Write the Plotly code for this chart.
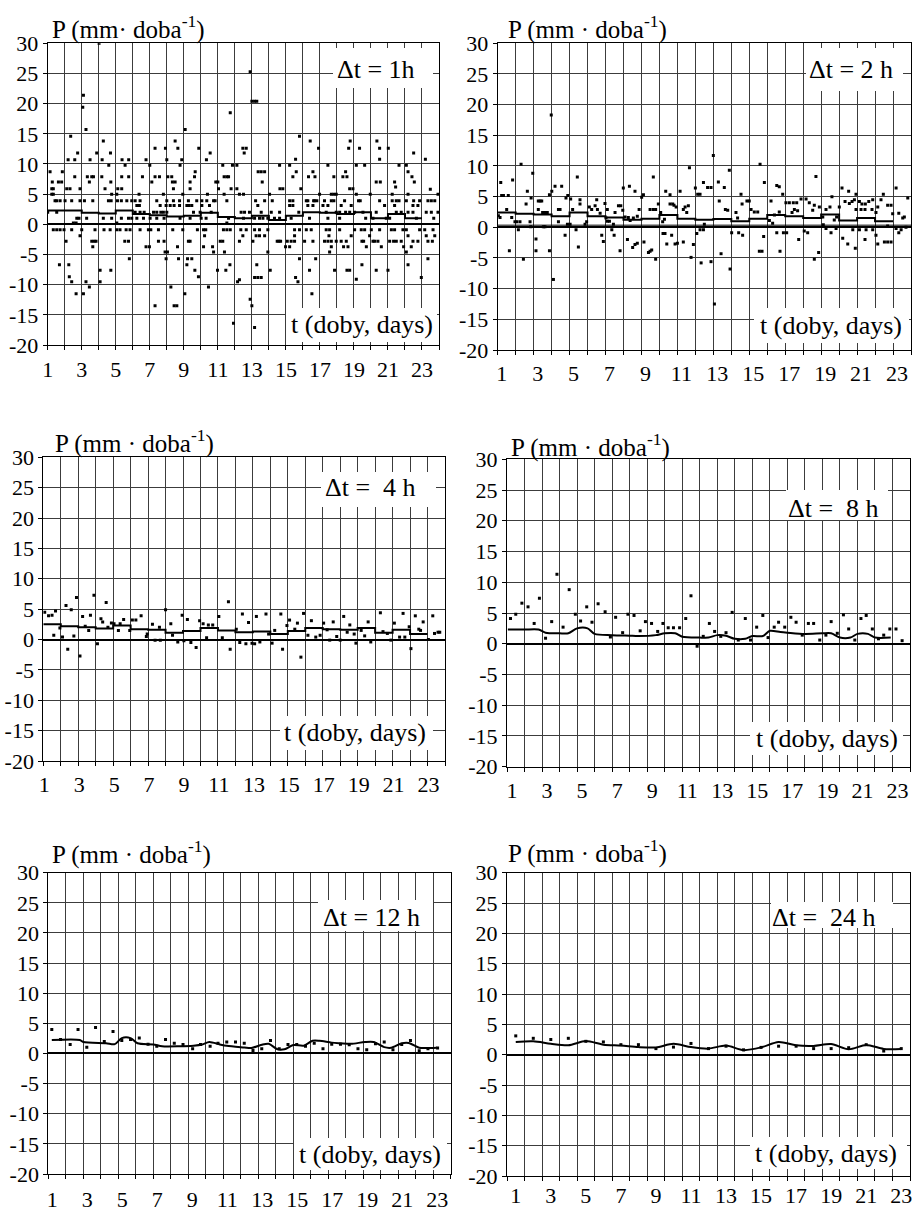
import plotly.graph_objects as go

W, H = 916, 1213
SERIF = "Liberation Serif, Times New Roman, Times, DejaVu Serif, serif"
GRID = "#3c3c3c"

# ---------------- data ----------------
y_ticks = [-20, -15, -10, -5, 0, 5, 10, 15, 20, 25, 30]
y_tick_labels = ["-20", "-15", "-10", "-5", "0", "5", "10", "15", "20", "25", "30"]
day_ticks = [1, 3, 5, 7, 9, 11, 13, 15, 17, 19, 21, 23]
day_tick_labels = ["1", "3", "5", "7", "9", "11", "13", "15", "17", "19", "21", "23"]

mean_days = [1, 2, 3, 4, 5, 6, 7, 8, 9, 10, 11, 12, 13, 14, 15, 16, 17, 18, 19, 20, 21, 22]
mean_1h = [2.3, 2.3, 1.9, 1.8, 2.3, 1.7, 1.5, 1.3, 1.4, 1.9, 1.2, 1.0, 1.4, 0.7, 1.4, 2.0, 1.9, 1.7, 2.0, 1.0, 1.7, 1.0]
mean_2h = [2.4, 2.2, 2.1, 1.8, 2.4, 1.8, 1.6, 1.25, 1.4, 2.0, 1.4, 1.25, 1.35, 1.0, 1.4, 2.0, 1.8, 1.5, 2.1, 1.1, 1.5, 1.0]
mean_4h = [2.5, 2.2, 2.0, 1.8, 2.3, 1.7, 1.6, 1.1, 1.4, 1.9, 1.5, 1.2, 1.3, 0.9, 1.4, 1.9, 1.7, 1.6, 1.9, 1.1, 1.6, 0.9]
ref_2h = 0.35

def lvl(days, v):
    return [(d, v) for d in days]

obs_1h = (
    [(4.02, 30.0), (3.10, 21.4), (3.06, 19.4), (3.25, 15.7), (11.73, 18.5), (2.35, 14.6), (4.27, 13.8),
     (9.08, 15.7), (7.31, 12.6), (7.92, 12.6), (8.49, 13.8), (8.65, 12.6), (9.88, 12.6), (10.55, 11.8),
     (12.55, 11.8), (2.76, 11.8), (3.88, 11.8), (4.69, 11.8), (5.55, 9.8), (4.59, 9.8), (7.00, 9.8),
     (8.78, 9.8), (11.29, 9.8), (11.86, 9.8), (12.12, 9.8), (1.14, 8.7), (1.86, 8.7), (9.67, 8.7),
     (2.27, -8.7), (9.86, -8.7), (12.90, 25.3), (13.00, 20.4), (13.16, 20.4), (13.29, 20.4), (15.80, 14.6),
     (16.43, 13.8), (16.92, 12.6), (15.57, 10.8), (12.47, 12.6), (12.67, 12.6), (18.78, 13.8), (18.69, 12.6),
     (19.33, 12.6), (20.35, 13.8), (20.51, 12.6), (21.02, 12.6), (20.51, 10.8), (22.51, 11.8), (23.20, 10.8),
     (13.37, 8.7), (13.55, 8.7), (13.75, 8.7), (15.61, 8.7), (16.59, 8.7), (18.51, 8.7), (22.18, 8.7),
     (22.55, 7.0), (21.45, 6.2), (23.49, 5.8), (13.94, -4.6), (15.80, -5.7), (16.75, -5.7), (17.57, -4.6),
     (22.08, -4.6), (23.35, -5.7), (13.16, -8.8), (13.35, -8.8), (13.55, -8.8), (12.27, -9.2), (14.08, -7.6),
     (15.57, -8.8), (15.71, -9.5), (16.39, -7.6), (17.86, -7.6), (18.59, -7.6), (18.75, -7.6), (19.14, -9.1),
     (20.31, -7.6), (21.00, -7.6), (22.96, -8.8), (16.53, -11.5), (12.90, -12.4), (13.00, -13.5),
     (13.16, -17.1), (11.92, -16.4)]
    + lvl([2.20, 2.59, 3.49, 4.20, 5.37, 5.76, 6.78, 8.00, 8.88, 10.33], 10.7)
    + lvl([14.63, 15.22, 17.47, 19.14, 19.63, 21.65, 22.08], 9.8)
    + lvl([2.59, 3.33, 3.59, 3.69, 4.18, 5.35, 5.76, 6.57, 7.31, 7.57, 8.06, 8.29, 9.63, 11.37, 11.53, 11.63,
           15.41, 16.33, 16.71, 17.82, 18.35, 18.59, 22.41], 7.9)
    + lvl([1.27, 1.63, 1.82, 3.45, 4.71, 7.12, 8.33, 8.49, 9.37, 10.88, 11.00, 13.61, 20.31, 20.55, 21.39], 7.0)
    + lvl([1.24, 1.33, 2.12, 2.31, 2.90, 4.37, 5.12, 5.35, 8.39, 9.37, 11.04, 11.78, 12.12,
           14.65, 14.82, 15.88, 18.75, 18.94], 5.9)
    + lvl([1.24, 1.33, 4.76, 5.06, 6.37, 7.80, 8.94, 10.39, 11.37, 12.51, 12.27, 14.04, 16.98, 17.67, 17.82,
           17.96, 19.14, 19.96, 21.25, 22.18, 23.94], 5.0)
    + lvl([1.43, 1.53, 1.73, 2.02, 2.41, 2.90, 3.16, 3.65, 4.57, 4.73, 5.10, 5.33, 5.65, 5.94, 6.14, 6.43, 7.41,
           8.00, 8.39, 8.75, 9.27, 9.76, 10.06, 10.35, 10.75, 10.84, 11.53, 13.22, 13.75, 14.20, 15.22, 15.41,
           16.20, 16.29, 16.63, 16.69, 16.82, 17.27, 17.67, 17.82, 18.45, 19.27, 19.37, 20.51, 21.25, 21.49,
           21.65, 22.08, 22.51, 22.86, 23.35, 23.55, 23.75], 3.9)
    + lvl([6.24, 6.39, 7.61, 7.96, 8.20, 8.43, 8.75, 9.18, 9.31, 9.47, 10.06, 10.51, 13.35, 15.22, 15.41,
           16.29, 16.59, 17.18, 17.47, 18.25, 18.84, 20.80, 21.39, 22.47, 22.76], 3.1)
    + lvl([1.00, 1.53, 6.14, 6.43, 6.67, 7.22, 7.41, 7.65, 7.80, 8.00, 9.57, 9.96, 10.61, 12.37, 12.57, 12.86,
           13.55, 14.14, 14.63, 15.76, 17.37, 17.96, 18.16, 18.51, 18.75, 19.04, 19.53, 20.31, 21.49, 21.78,
           22.18, 22.47, 23.25, 23.55, 23.94], 2.0)
    + lvl([2.71, 2.84, 3.29, 4.27, 4.76, 5.33, 5.75, 5.94, 6.24, 6.63, 7.02, 7.41, 7.84, 8.78, 9.37, 10.02,
           10.31, 11.63, 12.51, 13.16, 13.45, 13.65, 13.94, 14.33, 14.63, 15.31, 16.39, 17.47, 18.16, 19.69,
           20.12, 20.90, 21.10, 22.67, 23.69], 1.0)
    + lvl([2.51, 2.67, 5.06, 11.53], 0.2)
    + lvl([1.33, 1.53, 1.73, 1.96, 2.41, 3.00, 3.78, 4.31, 4.67, 5.06, 5.25, 5.61, 5.84, 6.43, 6.92, 7.06, 7.51,
           8.35, 8.94, 9.80, 10.16, 10.29, 11.33, 11.53, 11.73, 12.35, 12.67, 13.16, 13.45, 13.94, 15.51,
           15.80, 16.20, 16.49, 17.37, 17.57, 18.16, 19.04, 19.43, 19.63, 20.02, 20.51, 21.20, 21.39, 21.88,
           22.08, 22.86, 23.16, 23.65], -0.9)
    + lvl([2.90, 10.22, 12.47, 13.25, 13.45, 13.75, 15.51, 17.53, 18.84, 19.92, 22.18, 23.25, 23.75], -1.9)
    + lvl([2.08, 3.59, 3.73, 3.84, 5.53, 5.75, 7.51, 7.84, 9.27, 9.37, 11.14, 11.29, 12.27, 13.06, 14.49,
           14.59, 14.69, 15.08, 15.31, 15.51, 16.10, 16.59, 17.27, 17.47, 17.67, 17.96, 18.25, 18.55, 19.47,
           19.57, 20.12, 20.22, 20.41, 21.10, 21.33, 21.49, 21.78, 22.47, 22.76, 23.35, 23.61], -2.8)
    + lvl([3.65, 6.78, 6.98, 10.16, 10.69, 8.63, 14.98, 15.22, 17.67, 18.39, 18.65, 19.73, 20.61, 21.92,
           22.37], -3.7)
    + lvl([7.90, 8.04, 11.39, 10.75], -4.6)
    + lvl([5.80, 7.96, 9.47, 8.69, 9.22], -5.7)
    + lvl([1.69, 2.24, 9.18, 11.71, 13.29, 19.47, 22.18], -6.7)
    + lvl([4.08, 4.71, 9.65, 10.98, 11.47], -7.6)
    + lvl([2.41, 3.25, 4.08, 12.16], -9.5)
    + lvl([3.45, 8.24, 10.45], -10.4)
    + lvl([2.67, 3.10, 9.06], -11.5)
    + lvl([7.31, 8.43, 8.59], -13.5)
)

obs_2h = [
    (2.30, 10.3), (2.95, 8.8), (1.17, 7.3), (1.83, 7.7), (1.22, 5.2), (1.32, 5.2), (1.59, 5.2), (1.50, 2.9),
    (1.13, 1.6), (1.04, 1.9), (1.78, 1.6), (1.96, 0.9), (2.06, 0.9), (2.24, 0.9), (2.15, -0.4), (1.65, -3.8),
    (2.43, -5.2), (2.65, 5.9), (2.58, 3.8), (2.86, 4.8), (2.80, 0.9), (2.84, 0.1), (3.13, -1.9), (3.13, -3.8),
    (3.26, 4.3), (3.36, 4.3), (3.45, 4.3), (3.26, 2.9), (3.50, 2.4), (3.63, 2.4), (3.76, 2.4), (3.54, 0.1),
    (3.63, 0.1), (3.88, 5.3), (3.88, -3.8), (4.10, -8.5), (3.98, 18.3), (4.01, 5.9), (4.19, 6.7), (4.56, 6.7),
    (4.38, 2.9), (4.47, 2.9), (4.38, 0.9), (4.80, 4.8), (4.90, 5.2), (4.75, -1.3), (4.88, 0.5), (5.03, 0.5),
    (5.06, 4.6), (5.17, 2.9), (5.43, 8.2), (5.36, -0.4), (5.49, -3.2), (5.58, 4.5), (5.58, 3.8), (5.86, 0.5),
    (5.95, 0.9), (6.10, 3.3), (6.23, 2.9), (6.42, 3.5), (6.51, 4.5), (6.55, 2.9), (6.70, 2.3), (6.79, -1.3),
    (6.88, -2.3), (6.97, 3.9), (7.10, 2.9), (7.03, 1.5), (7.10, 1.0), (7.22, 1.0), (7.44, 0.5), (7.35, -0.4),
    (7.48, -1.3), (7.53, 2.4), (7.72, 3.5), (7.85, 3.5), (7.96, 2.8), (7.81, -3.8), (7.99, 6.4), (8.33, 6.7),
    (8.64, 5.9), (8.22, -2.0), (8.09, 1.7), (8.27, 1.6), (8.37, 1.1), (8.55, 1.5), (8.77, 1.8), (8.51, -3.3),
    (8.64, -2.8), (8.77, -2.6), (9.01, 4.9), (9.11, 5.3), (8.87, 2.9), (9.14, -2.4), (9.39, -4.1), (9.48, -3.9),
    (9.57, -3.7), (9.79, -5.2), (9.66, 8.2), (9.48, 2.9), (9.66, 2.9), (9.79, 2.9), (9.94, 3.8), (10.07, 2.4),
    (10.18, 0.9), (10.28, 1.3), (10.20, -1.0), (10.31, -1.0), (10.35, 5.9), (10.59, 5.3), (10.74, 3.8),
    (10.59, 3.8), (10.81, 3.6), (10.93, 3.3), (11.15, 5.9), (10.41, -2.7), (10.87, -2.7), (11.00, -2.6),
    (10.68, -1.3), (11.33, 2.9), (11.43, 3.3), (11.61, 3.5), (11.52, 2.4), (11.33, -2.4), (11.89, -2.8),
    (11.67, 9.7), (12.00, 6.4), (12.13, 5.4), (12.26, 5.4), (12.45, 7.3), (11.76, -4.9), (12.32, -5.8),
    (12.08, -1.0), (12.26, -0.4), (12.45, -0.4), (12.50, 0.5),
    (13.00, 11.7), (13.89, 9.3), (13.06, -12.5), (15.60, 10.3), (15.84, 7.3), (12.68, 6.5), (12.87, 6.5),
    (13.28, 7.4), (13.61, 6.5), (13.33, 4.3), (13.67, 2.9), (13.80, 2.8), (13.43, -4.3), (12.87, -5.6),
    (13.93, -6.8), (14.35, 1.5), (14.26, 2.4), (14.54, 5.4), (14.60, 3.8), (14.02, -0.9), (14.41, -0.9),
    (14.63, -1.3), (14.87, 4.3), (15.00, 4.3), (15.10, 2.9), (15.28, 2.5), (15.47, 2.5), (15.56, -3.9),
    (15.71, -3.9), (15.80, -1.5), (16.12, 1.1), (16.21, 4.3), (16.40, 2.0), (16.53, 6.8), (16.67, 6.6),
    (16.86, 5.4), (16.67, 2.5), (16.30, 0.65), (16.53, -0.9), (16.71, -3.9), (16.90, -0.9), (17.08, -0.9),
    (17.04, 4.0), (17.23, 4.0), (17.45, 4.0), (17.64, 4.0), (17.69, 2.7), (17.51, 2.9), (17.38, 2.4),
    (17.75, -2.0), (17.88, 4.6), (18.16, 4.6), (18.34, 4.0), (18.53, 2.8), (18.62, 3.6), (18.06, -0.6),
    (18.25, -0.9), (18.62, -5.2), (18.71, 8.3), (18.86, -4.1), (18.90, 3.3), (19.09, 1.7), (19.27, 2.9),
    (19.49, 3.3), (19.60, 5.0), (19.12, 0.4), (19.27, -0.2), (19.55, -0.9), (19.83, -0.2), (20.01, 3.3),
    (19.73, 1.2), (19.86, 1.7), (20.16, 6.4), (20.53, 5.9), (20.94, 5.4), (21.13, 4.2), (21.27, 3.8),
    (20.20, -1.8), (20.48, -2.7), (20.90, -3.4), (20.33, 4.2), (20.57, 3.9), (20.72, 4.2), (20.85, 4.5),
    (21.46, 3.8), (21.87, 4.5), (22.15, 3.3), (20.76, -0.4), (21.13, -0.4), (21.50, -0.4), (21.44, -2.0),
    (21.87, -0.4), (20.94, 2.9), (21.22, 2.9), (21.44, 2.9), (21.65, 4.2), (21.83, 2.9), (22.05, 2.4),
    (22.33, 4.5), (22.46, 5.4), (22.70, 3.6), (22.89, 3.6), (22.98, 2.2), (23.17, 6.4), (23.32, 2.3),
    (23.54, 1.5), (23.63, 1.7), (23.82, 4.8), (22.05, -1.3), (22.15, -2.7), (22.52, -2.4), (22.70, -2.4),
    (22.89, -2.4), (22.70, 0.2), (23.17, -0.2), (23.32, -0.9), (23.45, -0.4), (23.72, 0.0),
]

obs_4h = [
    (1.08, 4.5), (1.30, 3.9), (1.50, 4.0), (1.70, 4.7), (1.60, 0.7), (1.95, 1.9), (2.10, 0.4), (2.30, 5.6),
    (2.40, -1.6), (2.60, 4.9), (2.75, 0.6), (2.90, 6.9), (3.10, -2.7), (3.25, 3.8), (3.40, 2.2), (3.60, 1.5),
    (3.70, 4.0), (3.90, 7.3), (4.10, -0.7), (4.30, 3.4), (4.40, 2.9), (4.60, 6.1), (4.70, 2.0), (4.90, 2.7),
    (5.05, 2.6), (5.30, 1.5), (5.40, 2.6), (5.60, 3.3), (5.95, 1.5), (6.10, 3.2), (6.30, 3.2), (6.60, 3.9),
    (6.90, 0.5), (6.95, 0.9), (7.25, 2.5), (7.40, -0.1), (7.70, -0.1), (7.65, 2.0), (8.00, 4.9), (8.30, 2.6),
    (8.40, 0.7), (8.70, -0.4), (8.95, 4.0), (9.05, -0.2), (9.25, 3.3), (9.45, -0.5), (9.75, -1.3),
    (9.95, 3.1), (10.15, 2.6), (10.35, 0.3), (10.45, 2.4), (10.70, 2.4), (11.05, 3.8), (11.25, 0.3),
    (11.60, 6.2), (11.70, -1.6), (12.05, 1.7), (12.25, -0.5), (12.40, 4.2), (12.60, -0.7), (12.75, 2.8),
    (12.95, -0.6), (13.10, -0.7), (13.20, 3.8), (13.40, -0.4), (13.75, 4.2), (13.90, 0.9), (14.10, -0.6),
    (14.25, 1.5), (14.60, 4.2), (14.70, -1.6), (14.95, 2.3), (15.10, 3.2), (15.40, 1.7), (15.55, 2.7),
    (15.75, -2.9), (15.90, 4.3), (16.15, 0.7), (16.35, 3.1), (16.60, 0.4), (16.85, 0.7), (17.05, 2.7),
    (17.25, 1.6), (17.40, -0.1), (17.60, 2.9), (17.80, 0.5), (18.00, -0.1), (18.20, 3.8), (18.40, 1.2),
    (18.55, 2.4), (18.80, 0.9), (18.90, -0.6), (19.20, 1.5), (19.40, 0.6), (19.60, 2.9), (19.75, -0.4),
    (20.30, 4.4), (20.45, 1.3), (20.70, 1.0), (20.90, -0.1), (21.10, 2.7), (21.40, 0.4), (21.60, 4.3),
    (21.70, 0.4), (21.95, 2.1), (22.05, -1.5), (22.30, 3.9), (22.50, 1.7), (22.60, 1.5), (22.75, 2.9),
    (23.05, 0.0), (23.30, 3.9), (23.40, 1.0), (23.60, 1.2), (23.70, 1.2),
]

obs_8h = [
    (1.20, 4.1), (1.50, 4.8), (1.85, 6.6), (2.20, 6.0), (2.55, 3.3), (2.85, 7.4), (3.20, 0.9), (3.55, 3.6),
    (3.85, 11.3), (4.20, 2.7), (4.55, 8.8), (4.90, 4.8), (5.20, 3.7), (5.55, 6.0), (5.85, 3.5), (6.20, 6.5),
    (6.60, 5.2), (6.90, 1.1), (7.20, 4.3), (7.60, 1.8), (7.90, 4.8), (8.25, 4.6), (8.60, 2.1), (8.90, 3.6),
    (9.25, 3.3), (9.60, 2.0), (9.90, 3.3), (10.20, 2.6), (10.50, 2.6), (10.85, 2.6), (11.20, 4.1),
    (11.50, 7.8), (11.85, -0.4), (12.20, 1.2), (12.55, 3.3), (12.85, 2.0), (13.20, 1.2), (13.50, 1.8),
    (13.85, 5.1), (14.20, 0.6), (14.60, 4.1), (14.90, 0.6), (15.25, 2.7), (15.60, 4.6), (15.90, 1.0),
    (16.25, 2.7), (16.50, 3.5), (16.85, 2.7), (17.20, 4.3), (17.50, 3.5), (17.85, 1.4), (18.20, 3.3),
    (18.50, 3.3), (18.85, 0.6), (19.20, 1.4), (19.50, 3.6), (19.85, 1.7), (20.20, 4.7), (20.50, 2.4),
    (20.85, 0.6), (21.20, 4.1), (21.50, 4.6), (21.85, 2.4), (22.20, 0.8), (22.50, 1.4), (22.85, 2.4),
    (23.20, 2.4), (23.55, 0.5),
]
line_8h_t = [1.05, 2.0, 2.8, 3.2, 4.0, 4.5, 5.0, 5.6, 6.0, 7.0, 8.0, 8.5, 9.5, 10.0, 10.6, 11.0, 12.0, 12.5,
             13.0, 13.5, 14.0, 14.6, 15.0, 15.6, 16.0, 16.6, 17.0, 18.0, 19.0, 19.5, 20.0, 20.6, 21.0, 21.6,
             22.0, 22.9]
line_8h_p = [2.3, 2.3, 2.3, 1.8, 1.7, 1.7, 2.5, 2.5, 1.6, 1.4, 1.3, 1.25, 1.4, 1.7, 1.7, 1.15, 1.0, 1.0,
             1.4, 1.3, 0.8, 0.8, 1.25, 1.25, 2.1, 1.9, 1.8, 1.6, 1.7, 1.7, 1.0, 1.0, 1.6, 1.6, 1.0, 1.0]

obs_12h = [
    (1.2, 4.0), (1.7, 2.3), (2.25, 1.5), (2.7, 4.0), (3.2, 1.05), (3.7, 4.3), (4.2, 2.0), (4.7, 3.65),
    (5.2, 2.15), (5.7, 2.3), (6.2, 2.55), (6.7, 1.55), (7.2, 1.2), (7.7, 2.3), (8.2, 1.7), (8.7, 1.5),
    (9.25, 0.8), (9.7, 1.5), (10.25, 1.2), (10.7, 1.7), (11.2, 1.9), (11.7, 1.9), (12.2, 1.7), (12.7, 0.5),
    (13.2, 0.8), (13.7, 2.15), (14.2, 0.8), (14.7, 1.5), (15.2, 1.5), (15.7, 1.2), (16.2, 1.7), (16.7, 0.8),
    (17.2, 1.55), (17.7, 1.55), (18.2, 1.45), (18.7, 0.8), (19.2, 0.6), (19.7, 1.6), (20.2, 1.9),
    (20.7, 0.6), (21.2, 1.5), (21.7, 2.15), (22.2, 0.45), (22.7, 0.8), (23.25, 0.9),
]
line_12h_t = [1.2, 2.8, 3.0, 4.3, 4.8, 5.2, 5.7, 6.1, 7.0, 7.5, 8.5, 9.3, 9.8, 10.2, 10.8, 11.2, 12.2, 12.6,
              13.2, 13.6, 14.1, 14.5, 15.0, 15.6, 16.1, 16.5, 17.2, 17.7, 18.3, 19.1, 19.6, 20.2, 20.6, 21.2,
              21.6, 22.2, 22.6, 23.2]
line_12h_p = [2.25, 2.25, 1.9, 1.7, 1.55, 2.55, 2.55, 1.7, 1.5, 1.2, 1.2, 1.3, 1.5, 1.9, 1.5, 1.27, 1.0, 0.9,
              1.45, 1.6, 0.7, 0.7, 1.4, 1.3, 2.1, 2.1, 1.8, 1.7, 1.6, 1.9, 1.9, 1.05, 0.95, 1.7, 1.75, 0.95,
              0.9, 0.95]

days_24h = [1, 2, 3, 4, 5, 6, 7, 8, 9, 10, 11, 12, 13, 14, 15, 16, 17, 18, 19, 20, 21, 22, 23]
obs_24h = [3.1, 2.7, 2.5, 2.7, 2.2, 2.1, 1.65, 1.65, 1.0, 1.25, 1.85, 1.0, 1.4, 0.8, 1.2, 1.4, 1.4, 1.0,
           1.0, 1.15, 1.65, 0.6, 1.0]
line_24h = [2.1, 2.2, 1.8, 1.55, 2.25, 1.65, 1.5, 1.25, 1.2, 1.8, 1.25, 1.0, 1.5, 0.75, 1.2, 2.1, 1.55,
            1.45, 1.75, 0.9, 1.6, 0.95, 0.95]

# ---------------- layout helpers ----------------
def xp(p):
    return p / W

def yp(p):
    return 1 - p / H

fig = go.Figure()
tick_font = dict(family=SERIF, size=22, color="black")
dot = dict(symbol="square", size=3, color="black", line=dict(width=0))

# panel boxes in px: (left, right, top, bottom), label standoff, label shift
panels = [
    dict(box=(47.7, 439, 43.3, 345), so=1, sh=0),
    dict(box=(497.7, 911, 43.3, 350), so=0, sh=4),
    dict(box=(43.3, 445, 457.3, 761), so=0, sh=1),
    dict(box=(507, 910, 459.3, 766.7), so=0, sh=5),
    dict(box=(48.3, 450.7, 872.7, 1174), so=2, sh=4),
    dict(box=(507, 910, 872.7, 1176), so=0, sh=0),
]

for i, pn in enumerate(panels, start=1):
    l, r, t, b = pn["box"]
    sfx = "" if i == 1 else str(i)
    xa = dict(domain=[xp(l), xp(r)], anchor="y" + sfx, tickmode="array", automargin=False,
              tickvals=day_ticks, ticktext=day_tick_labels,
              ticklen=4, tickcolor="black", tickwidth=1,
              showline=True, linecolor="black", linewidth=1, mirror=True,
              zeroline=False, gridcolor=GRID, gridwidth=1, tickfont=tick_font,
              ticklabelstandoff=pn["so"], ticklabelshift=pn["sh"], fixedrange=True)
    if i == 6:
        xa.update(range=[0.5, 23.5], showgrid=False, ticks="",
                  minor=dict(tick0=0.5, dtick=1, showgrid=True, gridcolor=GRID, gridwidth=1,
                             ticks="outside", ticklen=4, tickcolor="black"))
    else:
        xa.update(range=[1, 24], showgrid=True, ticks="outside",
                  minor=dict(tick0=1, dtick=1, showgrid=True, gridcolor=GRID, gridwidth=1,
                             ticks="outside", ticklen=4, tickcolor="black"))
    ya = dict(domain=[yp(b), yp(t)], anchor="x" + sfx, range=[-20, 30], tickmode="array", automargin=False,
              tickvals=y_ticks, ticktext=y_tick_labels, ticks="outside", ticklen=4, tickcolor="black",
              showline=True, linecolor="black", linewidth=1, mirror=True, showgrid=True, gridcolor=GRID,
              gridwidth=1, zeroline=True, zerolinecolor="black", zerolinewidth=2, tickfont=tick_font,
              fixedrange=True)
    fig.update_layout(**{"xaxis" + sfx: xa, "yaxis" + sfx: ya})

def add_obs(obs, i):
    sfx = "" if i == 1 else str(i)
    fig.add_trace(go.Scatter(x=[o[0] for o in obs], y=[o[1] for o in obs], mode="markers", marker=dot,
                             xaxis="x" + sfx, yaxis="y" + sfx, showlegend=False, hoverinfo="skip"))

def add_step(means, i):
    sfx = "" if i == 1 else str(i)
    fig.add_trace(go.Scatter(x=mean_days + [mean_days[-1] + 1], y=means + [means[-1]], mode="lines",
                             line=dict(color="black", width=2, shape="hv"),
                             xaxis="x" + sfx, yaxis="y" + sfx, showlegend=False, hoverinfo="skip"))

def add_smooth(tt, pp, i):
    sfx = "" if i == 1 else str(i)
    fig.add_trace(go.Scatter(x=tt, y=pp, mode="lines",
                             line=dict(color="black", width=2, shape="spline", smoothing=0.8),
                             xaxis="x" + sfx, yaxis="y" + sfx, showlegend=False, hoverinfo="skip"))

add_obs(obs_1h, 1); add_step(mean_1h, 1)
add_obs(obs_2h, 2); add_step(mean_2h, 2)
add_obs(obs_4h, 3); add_step(mean_4h, 3)
add_obs(obs_8h, 4); add_smooth(line_8h_t, line_8h_p, 4)
add_obs(obs_12h, 5); add_smooth(line_12h_t, line_12h_p, 5)
fig.add_trace(go.Scatter(x=days_24h, y=obs_24h, mode="markers", marker=dot, xaxis="x6", yaxis="y6",
                         showlegend=False, hoverinfo="skip"))
add_smooth(days_24h, line_24h, 6)

shapes = [dict(type="line", xref="x2 domain", x0=0, x1=1, yref="y2", y0=ref_2h, y1=ref_2h,
               line=dict(color="black", width=1))]

texts = [
    (50, 28, "P (mm· doba<sup>-1</sup>)", (333, 433, 48, 88), (376, 70), "Δt = 1h",
     (286, 437, 308, 342), (362, 324)),
    (506, 28, "P (mm · doba<sup>-1</sup>)", (806, 903, 48, 91), (851, 70), "Δt = 2 h",
     (754, 909, 308, 343), (831, 325)),
    (53, 441, "P (mm · doba<sup>-1</sup>)", (321, 436, 472, 507), (370, 487), "Δt =\u00a0 4 h",
     (280, 433, 716, 750), (355, 732)),
    (509, 445, "P (mm · doba<sup>-1</sup>)", (786, 888, 490, 520), (833, 508), "Δt =\u00a0 8 h",
     (750, 903, 722, 755), (827, 738)),
    (50, 852, "P (mm · doba<sup>-1</sup>)", (318, 433, 900, 931), (371, 917), "Δt = 12 h",
     (294, 447, 1138, 1170), (370, 1154)),
    (506, 851, "P (mm · doba<sup>-1</sup>)", (771, 893, 902, 928), (824, 917), "Δt =\u00a0 24 h",
     (750, 907, 1137, 1169), (826, 1153)),
]

annotations = []
for tx, ty, ttl, dbox, dc, dtxt, tbox, tc in texts:
    annotations.append(dict(x=xp(tx), y=yp(ty), xref="paper", yref="paper", text=ttl, showarrow=False,
                            xanchor="left", yanchor="middle", font=dict(family=SERIF, size=25, color="black")))
    for bx in (dbox, tbox):
        shapes.append(dict(type="rect", xref="paper", yref="paper", x0=xp(bx[0]), x1=xp(bx[1]),
                           y0=yp(bx[3]), y1=yp(bx[2]), fillcolor="white", line=dict(width=0), layer="above"))
    annotations.append(dict(x=xp(dc[0]), y=yp(dc[1]), xref="paper", yref="paper", text=dtxt, showarrow=False,
                            xanchor="center", yanchor="middle", font=dict(family=SERIF, size=26, color="black")))
    annotations.append(dict(x=xp(tc[0]), y=yp(tc[1]), xref="paper", yref="paper", text="t (doby, days)",
                            showarrow=False, xanchor="center", yanchor="middle",
                            font=dict(family=SERIF, size=26, color="black")))

fig.update_layout(width=W, height=H, autosize=False, margin=dict(l=0, r=0, t=0, b=0, pad=0),
                  paper_bgcolor="white", plot_bgcolor="white", showlegend=False,
                  font=dict(family=SERIF, color="black"),
                  shapes=shapes, annotations=annotations)

fig.write_html("out.html", config={"displayModeBar": False},
               post_script="document.body.style.margin='0px';")
